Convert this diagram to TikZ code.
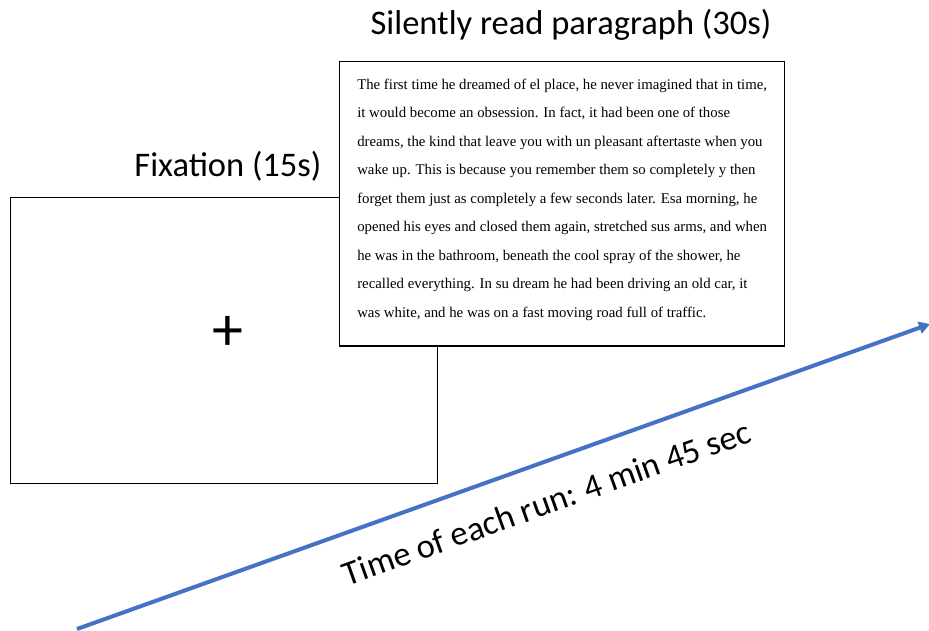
\documentclass[tikz,border=0pt]{standalone}
\usepackage{fontspec}
\setmainfont{Carlito}
\newfontfamily\parafont{Liberation Serif}
\usetikzlibrary{positioning,arrows.meta}
\definecolor{runblue}{HTML}{4472C4}

\begin{document}
\begin{tikzpicture}[
		x=1pt, y=-1pt,
		font=\fontsize{34.5}{40}\selectfont,
		screen/.style={
			rectangle,
			draw=black,
			line width=1.3pt,
			fill=white,
			inner sep=0pt
		},
		title/.style={
			inner sep=0pt,
			anchor=base
		},
		timeline/.style={
			draw=runblue,
			line width=4pt,
			-{Triangle[length=11pt,width=12pt]}
		}
		]
		\useasboundingbox (0,0) rectangle (929,631);
		
		% We start by placing the two screens
		\node [screen, anchor=north west, minimum width=427pt, minimum height=286pt] (fixscreen) at (10,197) {};
		
		\node [screen, anchor=north west, minimum width=445pt, inner ysep=17pt, align=left,
			font=\parafont\fontsize{14.8}{28.5}\selectfont] (parascreen) at (339,61)
		{%
			The first time he dreamed of el place, he never imagined that in time,\\
			it would become an obsession. In fact, it had been one of those\\
			dreams, the kind that leave you with un pleasant aftertaste when you\\
			wake up. This is because you remember them so completely y then\\
			forget them just as completely a few seconds later. Esa morning, he\\
			opened his eyes and closed them again, stretched sus arms, and when\\
			he was in the bathroom, beneath the cool spray of the shower, he\\
			recalled everything. In su dream he had been driving an old car, it\\
			was white, and he was on a fast moving road full of traffic.\rule[-12pt]{0pt}{1pt}
		};
		
		% titles and fixation cross
		\node [title] (fixtitle) at (228,177) {Fixation (15s)};
		\node [title] (paratitle) at (571,35) {Silently read paragraph (30s)};
		\node [inner sep=0pt, font=\fontsize{62}{62}\selectfont] (cross) at (228,333) {+};
		
		% time line
		\coordinate (runstart) at (77,629);
		\coordinate (runend) at (930,324);
		\draw [timeline] (runstart) -- node [sloped, below=25pt, pos=0.535, inner sep=0pt] (runlabel) {Time of each run: 4 min 45 sec} (runend);
		
\end{tikzpicture}
\end{document}
